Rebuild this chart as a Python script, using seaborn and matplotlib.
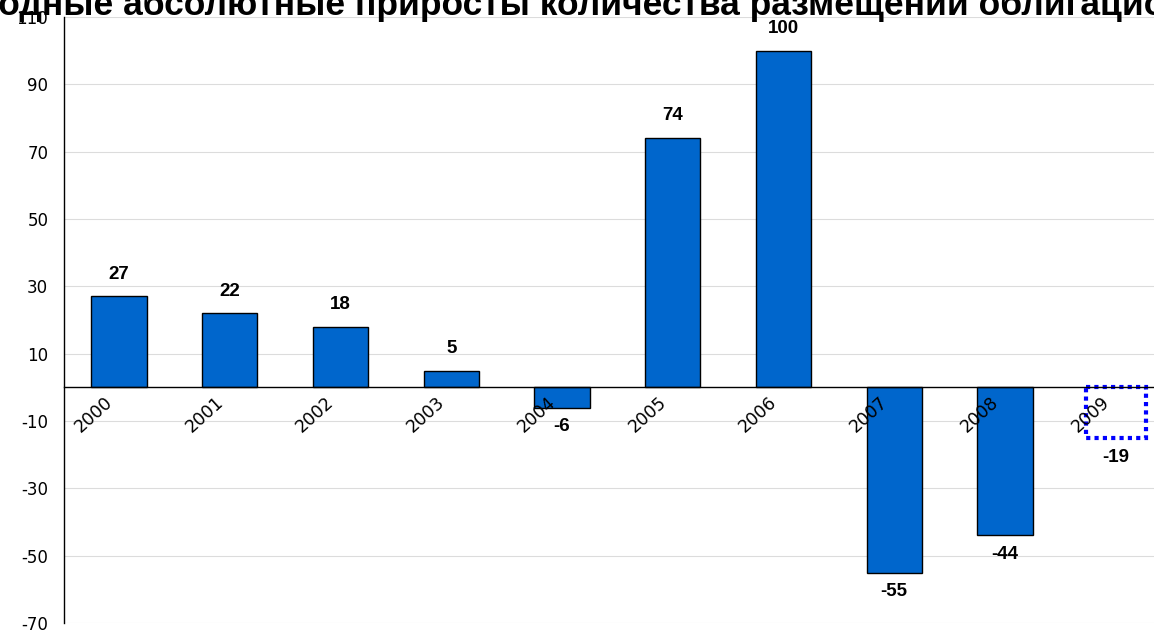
import matplotlib
matplotlib.use("Agg")
import matplotlib.pyplot as plt
import matplotlib.transforms as mtransforms
import seaborn as sns
import numpy as np

# data
years = ["2000", "2001", "2002", "2003", "2004", "2005", "2006", "2007", "2008", "2009"]
values = [27, 22, 18, 5, -6, 74, 100, -55, -44, -15]   # 2009 is the dotted estimate box
value_labels = ["27", "22", "18", "5", "-6", "74", "100", "-55", "-44", "-19"]
y_ticks = [-70, -50, -30, -10, 10, 30, 50, 70, 90, 110]
title = "Погодные абсолютные приросты количества размещений облигационных займов"

sns.set_style("white")
plt.rcParams["font.family"] = ["DejaVu Sans"]
plt.rcParams["axes.unicode_minus"] = False

fig = plt.figure(figsize=(11.54, 6.3), dpi=100)
ax = fig.add_axes([0.0551, 0.0111, 0.9597, 0.9619])

sns.barplot(x=years, y=values, color="#0066CC", saturation=1, edgecolor="black",
            linewidth=1, width=0.5, ax=ax)

# last bar is drawn as an unfilled dotted box
box = ax.patches[-1]
box.set_facecolor("none")
box.set_edgecolor("#0000FF")
box.set_linestyle((0, (1, 1)))
box.set_linewidth(3)
w_old = box.get_width()
box.set_width(0.54)
box.set_x(box.get_x() - (0.54 - w_old) / 2)

ax.set_xlim(-0.5, len(years) - 0.5)
ax.set_ylim(-70, 110)
ax.set_yticks(y_ticks)
ax.yaxis.grid(True, color="#dcdcdc", linewidth=0.8)
ax.set_axisbelow(True)
ax.tick_params(axis="y", labelsize=12, length=4, width=1, pad=7,
               color="black", labelcolor="black")

# category axis sits on the zero line, drawn above the bars
ax.spines["top"].set_visible(False)
ax.spines["right"].set_visible(False)
ax.spines["bottom"].set_position(("data", 0))
ax.spines["bottom"].set_linewidth(1)
ax.spines["left"].set_linewidth(1)
ax.spines["left"].set_color("black")
ax.spines["bottom"].set_color("black")
ax.xaxis.set_zorder(5)
ax.spines["bottom"].set_zorder(5)

pos = np.arange(len(years))
ax.set_xticks(pos - 0.5)
ax.set_xticklabels([])
ax.set_xticks(pos, minor=True)
ax.set_xticklabels(years, minor=True, rotation=42, ha="right", va="top",
                   rotation_mode="anchor", fontsize=12.5, color="black")
ax.tick_params(axis="x", which="major", length=4, color="#555555", width=1)
ax.tick_params(axis="x", which="minor", length=0, pad=4)
shift = mtransforms.ScaledTranslation(-15 / 100, 0, fig.dpi_scale_trans)
for lab in ax.get_xticklabels(minor=True):
    lab.set_transform(lab.get_transform() + shift)

ax.set_xlabel("")
ax.set_ylabel("")

for x, v, t in zip(pos, values, value_labels):
    off = 16 if v > 0 else -14
    ax.annotate(t, (x, v), xytext=(0, off), textcoords="offset points",
                ha="center", va="center", fontsize=13.5, fontweight="bold",
                family="Liberation Sans", color="black")

fig.text(-63 / 1154, 1 - 15 / 630, title, ha="left", va="baseline",
         fontsize=25.5, fontweight="bold", family="Liberation Sans", color="black")

fig.savefig("out.png", dpi=100)
